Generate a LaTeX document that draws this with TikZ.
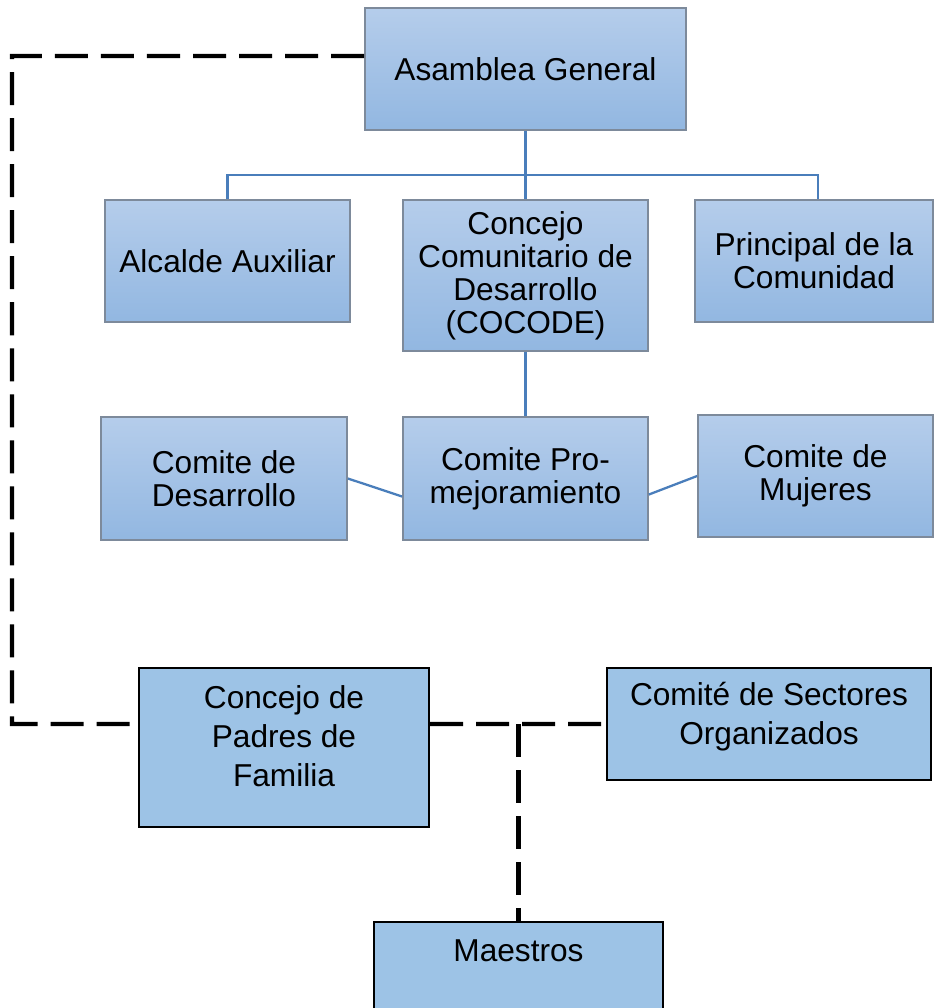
\documentclass[tikz,border=0pt]{standalone}
\usepackage{fontspec}
\setmainfont{Liberation Sans}
\definecolor{boxtop}{RGB}{181,205,235}
\definecolor{boxbot}{RGB}{146,183,225}
\definecolor{boxflat}{RGB}{157,195,230}
\definecolor{treeblue}{RGB}{74,126,187}
\definecolor{boxedge}{RGB}{125,138,155}
\begin{document}
\begin{tikzpicture}[x=0.01cm,y=-0.01cm,
  topbox/.style={draw=boxedge, line width=0.45pt, top color=boxtop, bottom color=boxbot,
    align=center, inner sep=0pt, font=\fontsize{9pt}{9.4pt}\selectfont},
  lowbox/.style={draw=black, line width=0.6pt, fill=boxflat, inner sep=0pt},
  lowtext/.style={align=center, inner sep=0pt, font=\fontsize{9pt}{11.1pt}\selectfont},
  tree/.style={draw=treeblue, line width=0.65pt},
  dashline/.style={draw=black, line width=1.15pt, dash pattern=on 0.33cm off 0.13cm}]
\useasboundingbox (0,0) rectangle (934,1008);
% upper boxes
\node[topbox, minimum width=3.21cm, minimum height=1.22cm] (ag) at (525.5,69) {Asamblea General};
\node[topbox, minimum width=2.45cm, minimum height=1.22cm] (alc) at (227.5,261) {Alcalde Auxiliar};
\node[topbox, minimum width=2.45cm, minimum height=1.51cm] (coc) at (525.5,275.5) {Concejo\\Comunitario de\\Desarrollo\\(COCODE)};
\node[topbox, minimum width=2.38cm, minimum height=1.22cm] (pri) at (814,261) {Principal de la\\Comunidad};
\node[topbox, minimum width=2.46cm, minimum height=1.23cm] (cde) at (224,478.5) {Comite de\\Desarrollo};
\node[topbox, minimum width=2.45cm, minimum height=1.23cm] (cpr) at (525.5,478.5) {Comite Pro-\\mejoramiento};
\node[topbox, minimum width=2.35cm, minimum height=1.22cm] (cmu) at (815.5,476) {Comite de\\Mujeres};
% lower boxes
\node[lowbox, minimum width=2.90cm, minimum height=1.59cm,
  label={[lowtext, yshift=0.11cm]center:{Concejo de\\Padres de\\Familia}}] (cpf) at (284,747.5) {};
\node[lowbox, minimum width=3.24cm, minimum height=1.12cm,
  label={[lowtext, yshift=0.075cm]center:{Comité de Sectores\\Organizados}}] (cs) at (769,724) {};
\node[lowbox, minimum width=2.89cm, minimum height=1.18cm,
  label={[lowtext, yshift=0.30cm]center:{Maestros}}] (mae) at (518.5,981) {};
% blue tree connectors
\coordinate (hb) at (525.5,175);
\draw[tree] (alc.north) |- (hb) -| ([xshift=0.04cm]pri.north);
\draw[tree] (ag.south) -- (coc.north);
\draw[tree] (coc.south) -- (cpr.north);
\draw[tree] (cde.east) -- ([yshift=-0.18cm]cpr.west);
\draw[tree] ([yshift=-0.16cm]cpr.east) -- (cmu.west);
% dashed connectors
\coordinate (tl) at (12,56);
\coordinate (bl) at (12,724);
\coordinate (jn) at (518.5,724);
\draw[dashline] ([yshift=0.13cm]ag.west) -- (tl) -- (bl) -- ([yshift=0.235cm]cpf.west);
\draw[dashline] ([yshift=0.235cm]cpf.east) -- (cs.west);
\draw[dashline] (jn) -- (mae.north);
\end{tikzpicture}
\end{document}
